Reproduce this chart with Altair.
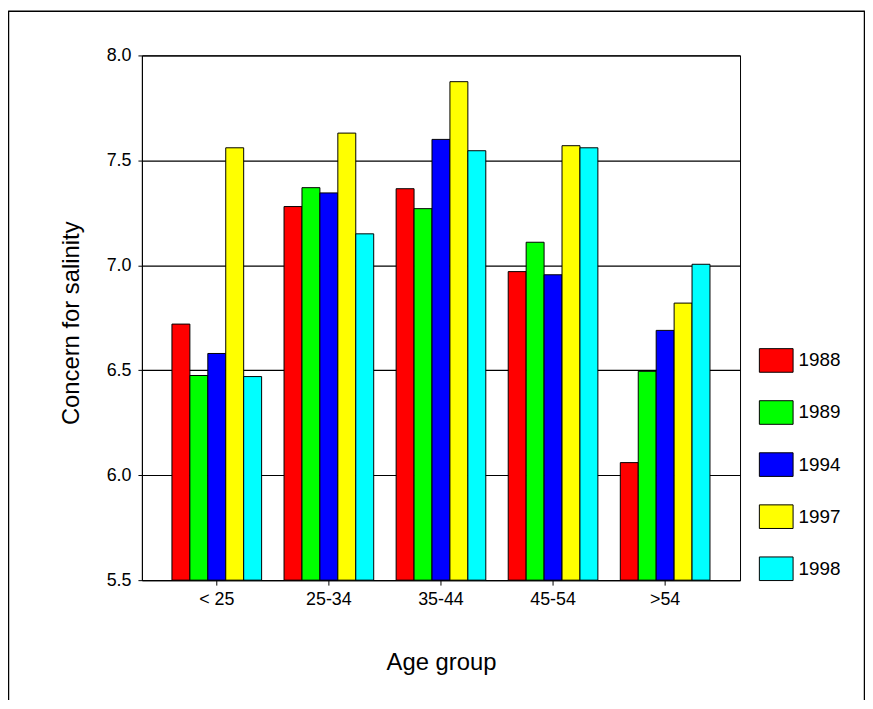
import altair as alt
import pandas as pd

groups = ["< 25", "25-34", "35-44", "45-54", ">54"]
years = ["1988", "1989", "1994", "1997", "1998"]
colors = ["#FF0000", "#00FF00", "#0000FF", "#FFFF00", "#00FFFF"]
v1988 = [6.72, 7.28, 7.365, 6.97, 6.06]
v1989 = [6.475, 7.37, 7.27, 7.11, 6.495]
v1994 = [6.58, 7.345, 7.60, 6.955, 6.69]
v1997 = [7.56, 7.63, 7.875, 7.57, 6.82]
v1998 = [6.47, 7.15, 7.546, 7.56, 7.005]
y_ticks = [5.5, 6.0, 6.5, 7.0, 7.5, 8.0]

series = [v1988, v1989, v1994, v1997, v1998]
rows = []
for yr, vals in zip(years, series):
    for g, v in zip(groups, vals):
        rows.append({"group": g, "year": yr, "value": v})
df = pd.DataFrame(rows)

FONT = "Liberation Sans"
W, H = 603, 529

bars = alt.Chart(df).mark_bar(stroke="black", strokeWidth=1, clip=True).encode(
    x=alt.X("group:N", sort=groups,
            scale=alt.Scale(paddingInner=0.2, paddingOuter=0.268),
            axis=alt.Axis(title="Age group", labelAngle=0, labelFontSize=18,
                          labelColor="black", tickSize=5, tickColor="black",
                          domainColor="black", labelPadding=6,
                          titleFontSize=24, titleFontWeight="normal",
                          titleColor="black", titlePadding=42)),
    xOffset=alt.XOffset("year:N", sort=years,
                        scale=alt.Scale(paddingInner=0, paddingOuter=0)),
    y=alt.Y("value:Q",
            scale=alt.Scale(domain=[5.5, 8.0], nice=False, zero=False),
            axis=alt.Axis(title="Concern for salinity", values=y_ticks,
                          format=".1f", labelFontSize=18, labelColor="black",
                          tickSize=4, tickColor="black", domainColor="black",
                          labelPadding=7, grid=True, gridColor="black",
                          gridOpacity=1, gridWidth=1.2,
                          titleFontSize=24, titleFontWeight="normal",
                          titleColor="black", titlePadding=23,
                          titleY=H / 2 + 5)),
    y2=alt.datum(5.5),
    fill=alt.Fill("year:N", sort=years,
                  scale=alt.Scale(domain=years, range=colors),
                  legend=alt.Legend(title=None, orient="none",
                                    legendX=622, legendY=290,
                                    symbolType="M-1,-0.7H1V0.7H-1Z",
                                    symbolSize=1156, symbolStrokeColor="black",
                                    symbolStrokeWidth=1, symbolOpacity=1,
                                    labelFontSize=19, labelColor="black",
                                    labelOffset=5, rowPadding=20.5)),
)

one = pd.DataFrame({"a": [0]})
frame_left = alt.Chart(one).mark_rule(color="black", strokeWidth=1.5).encode(
    x=alt.value(-134.5), y=alt.value(-45), y2=alt.value(650))
frame_top = alt.Chart(one).mark_rule(color="black", strokeWidth=1.5).encode(
    x=alt.value(-134.5), x2=alt.value(728.5), y=alt.value(-44.5))
frame_right = alt.Chart(one).mark_rule(color="black", strokeWidth=1.5).encode(
    x=alt.value(728.5), y=alt.value(-45), y2=alt.value(650))

chart = alt.layer(bars, frame_left, frame_top, frame_right).properties(
    width=W, height=H,
    autosize=alt.AutoSizeParams(type="none"),
    padding={"left": 135, "top": 45, "right": 126, "bottom": 118},
).configure(font=FONT).configure_view(stroke="black", strokeWidth=1)

chart.save("out.html", embed_options={"renderer": "svg", "actions": False})
